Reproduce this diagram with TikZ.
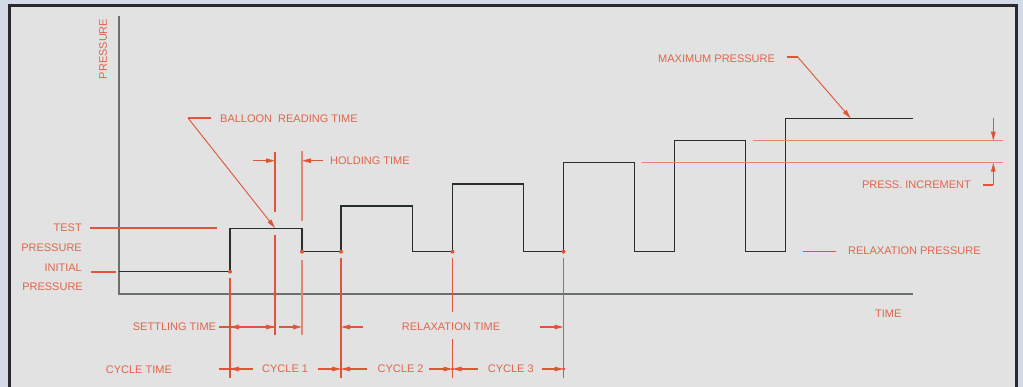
\documentclass[tikz,border=0pt]{standalone}
\usepackage{fontspec}
\setmainfont{Liberation Sans}
\usetikzlibrary{arrows.meta}
\definecolor{bgout}{HTML}{D5DAE7}
\definecolor{bgin}{HTML}{E1E2E1}
\definecolor{framec}{HTML}{2A2A2E}
\definecolor{redl}{HTML}{E05438}
\definecolor{redlight}{HTML}{E48670}
\definecolor{redt}{HTML}{E0664C}
\definecolor{sig}{HTML}{263029}
\definecolor{axisc}{HTML}{6A716C}
\begin{document}
\begin{tikzpicture}[x=1pt,y=-1pt,
  lbl/.style={text=redt,font=\fontsize{11}{13}\selectfont,inner sep=0pt},
  rl/.style={draw=redl,line width=1.1pt},
  rlight/.style={draw=redlight,line width=1.1pt},
  tip/.style={draw=redl,line width=1.1pt,-{Triangle[length=9pt,width=4.5pt]}},
  dotc/.style={circle,fill=redl,inner sep=0pt,minimum size=4pt},
  sigline/.style={draw=sig,line width=1.3pt},
  axisline/.style={draw=axisc,line width=2pt}]
\useasboundingbox (0,0) rectangle (1023,387);
\clip (0,0) rectangle (1023,387);
\fill[bgout] (0,0) rectangle (1023,387);
\draw[framec,line width=3pt,fill=bgin] (9.7,6) rectangle (1016.7,400);

% axes
\coordinate (org) at (119,294);
\coordinate (ytop) at (119,16);
\coordinate (xend) at (912.7,294);
\draw[axisline] (ytop) -- (org) -- (xend);

% signal
\draw[sigline] (119,271.7) -- (230,271.7) -- (230,228.3) -- (302,228.3) -- (302,251.7)
  -- (341,251.7) -- (341,206) -- (412.3,206) -- (412.3,251.7)
  -- (452.5,251.7) -- (452.5,184) -- (523.5,184) -- (523.5,251.7)
  -- (563.5,251.7) -- (563.5,162.7) -- (634.5,162.7) -- (634.5,251.7)
  -- (674.5,251.7) -- (674.5,140.7) -- (745.5,140.7) -- (745.5,251.7)
  -- (785.5,251.7) -- (785.5,118.3) -- (912.7,118.3);

% texts
\node[lbl,rotate=90] (tpress) at (103,49) {PRESSURE};
\node[lbl,anchor=west] (tballoon) at (220,119) {BALLOON\hspace{0.55em}READING TIME};
\node[lbl,anchor=west] (thold) at (330,160.5) {HOLDING TIME};
\node[lbl,anchor=east] (ttest) at (82,228) {TEST};
\node[lbl,anchor=east] (tpress2) at (82,248) {PRESSURE};
\node[lbl,anchor=east] (tinit) at (82,268) {INITIAL};
\node[lbl,anchor=east] (tpress3) at (83,287) {PRESSURE};
\node[lbl,anchor=west] (tsettle) at (132.7,327) {SETTLING TIME};
\node[lbl,anchor=west] (trelax) at (401.7,327) {RELAXATION TIME};
\node[lbl,anchor=west] (tcycle) at (105.7,370) {CYCLE TIME};
\node[lbl,anchor=west] (tc1) at (262,369) {CYCLE 1};
\node[lbl,anchor=west] (tc2) at (377.5,369) {CYCLE 2};
\node[lbl,anchor=west] (tc3) at (487.7,369) {CYCLE 3};
\node[lbl,anchor=west] (tmax) at (658,59) {MAXIMUM PRESSURE};
\node[lbl,anchor=east] (tinc) at (971,185) {PRESS. INCREMENT};
\node[lbl,anchor=west] (trp) at (848,251) {RELAXATION PRESSURE};
\node[lbl,anchor=west] (ttime) at (875,314) {TIME};

% leaders
\draw[rl] (90,228) -- (216.7,228);
\draw[rl] (91,272) -- (116,272);
\draw[rl] (210.7,118) -- (188,118);
\draw[tip,line width=0.9pt] (188,118) -- (275,228);
\draw[rl] (786.7,57) -- (797.7,57);
\draw[tip,line width=0.9pt] (797.7,57) -- (850.7,118.3);
\draw[rl] (802.7,251.7) -- (835.7,251.7);

% extension lines
\draw[rl] (275,152) -- (275,212);
\draw[rl] (275,235) -- (275,335);
\draw[rlight] (302,151) -- (302,221);
\draw[rlight] (302,260) -- (302,335);
\draw[rl] (230,278) -- (230,378);
\draw[rl] (341,258) -- (341,378);
\draw[rl] (452.5,258) -- (452.5,311.7);
\draw[rl] (452.5,339) -- (452.5,378);
\draw[rl] (563.5,258) -- (563.5,378);

% holding time
\draw[tip] (253,160.7) -- (275,160.7);
\draw[tip] (323,160.7) -- (302,160.7);

% settling / relaxation row
\draw[rl] (219,327) -- (275,327);
\draw[tip] (250,327) -- (230,327);
\draw[tip] (255,327) -- (275,327);
\draw[tip] (279,327) -- (302,327);
\draw[tip] (363,327) -- (341,327);
\draw[tip] (540,327) -- (563.5,327);

% cycle row
\draw[rl] (219,369) -- (253,369);
\draw[tip] (245,369) -- (230,369);
\draw[tip] (318,369) -- (341,369);
\draw[tip] (366.7,369) -- (341,369);
\draw[tip] (429,369) -- (452.5,369);
\draw[tip] (477.7,369) -- (452.5,369);
\draw[tip] (542,369) -- (563.5,369);

% pressure increment
\draw[rlight] (752.7,140.7) -- (1002.7,140.7);
\draw[rlight] (641.7,162.7) -- (1002.7,162.7);
\draw[tip] (993.3,118) -- (993.3,140.7);
\draw[rl] (983,185) -- (993.3,185);
\draw[tip] (993.3,185) -- (993.3,162.7);

% dots
\node[dotc] (d1) at (230,271.7) {};
\node[dotc] (d2) at (302,251.7) {};
\node[dotc] (d3) at (341,251.7) {};
\node[dotc] (d4) at (452.5,251.7) {};
\node[dotc] (d5) at (563.5,251.7) {};
\node[dotc] (d6) at (275,294) {};
\node[dotc,minimum size=3.5pt] (d7) at (341,369) {};
\node[dotc,minimum size=3.5pt] (d8) at (452.5,369) {};
\node[dotc,minimum size=3.5pt] (d9) at (563.5,369) {};
\end{tikzpicture}
\end{document}
